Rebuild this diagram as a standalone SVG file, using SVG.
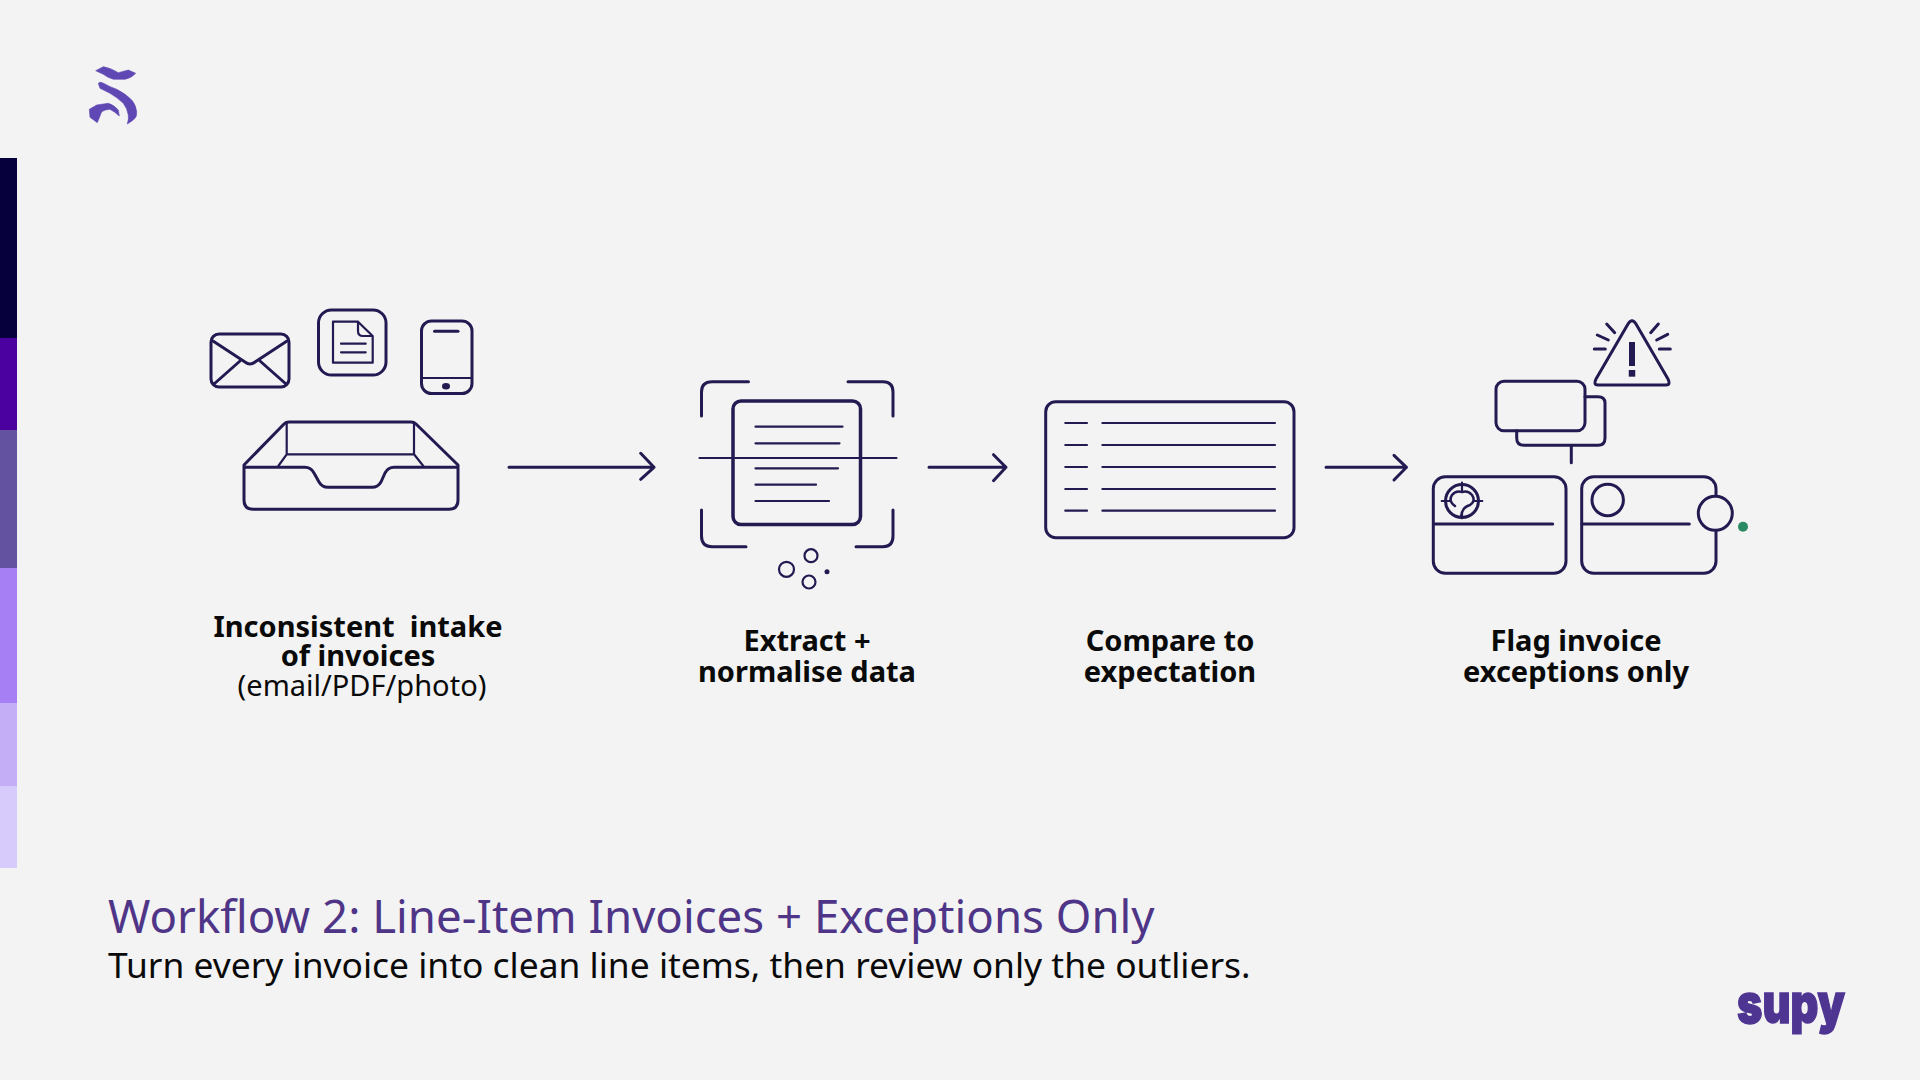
<svg xmlns="http://www.w3.org/2000/svg" width="1920" height="1080" viewBox="0 0 1920 1080">
<style>
.l{fill:none;stroke:#241a52;stroke-width:3;stroke-linecap:round;stroke-linejoin:round}
.t{stroke-width:2.2}
.n{font-family:"Noto Sans",sans-serif;font-size:29px;fill:#0a0a0a;text-anchor:middle;stroke:none;white-space:pre}
.b{font-weight:700}
</style>
<rect width="1920" height="1080" fill="#f3f3f3"/>
<g id="bar">
<rect x="0" y="158" width="17" height="180" fill="#06003d"/>
<rect x="0" y="338" width="17" height="92" fill="#4b00a0"/>
<rect x="0" y="430" width="17" height="138" fill="#62529f"/>
<rect x="0" y="568" width="17" height="135" fill="#a67ff5"/>
<rect x="0" y="703" width="17" height="83" fill="#c4aef5"/>
<rect x="0" y="786" width="17" height="82" fill="#d6cbfb"/>
</g>
<g id="logo" fill="#5f48b4" stroke="#5f48b4" stroke-width="0.6" stroke-linejoin="round">
<path d="M95.700 70.700L103.300 66.700Q110 67.500 118.300 72.700L128.300 70L135.700 73.300Q131 78.500 125 79.300H113.300Q108 78 103.300 74.300Z"/>
<path d="M98.300 83.300Q100 81.500 103 83Q110 87 116.700 89.300Q126 94 131.700 100Q136 105 136.700 111.700Q137 116 135 118.300Q132 121.500 127.300 124Q129 119 128.300 115Q127 108 123.300 103.300Q118 98 110 93.300L100 88.300Z"/>
<path d="M89.300 109.300L96.700 105L108.300 103.300Q114 105 118.300 110L119.300 116Q115 112 110 109.300Q105 109.500 101.700 111.700L97.300 122.700L90 117.300Z"/>
</g>
<g id="connectors" class="l">
<path d="M509 467.300H654M640.700 453.300L654 467.300L640.700 479.300"/>
<path d="M929 467.300H1006M993.500 454.700L1006 467.300L993.500 480.700"/>
<path d="M1326 467.300H1406.500M1394 455.300L1406.500 467.300L1394 480"/>
</g>
<g id="node-intake" class="l">
<rect x="211" y="334" width="78" height="53" rx="8"/>
<path d="M213 341L245 362Q250 366 255 362L287 341M214 384L240 361M286 384L260 361"/>
<rect x="318.500" y="310" width="67.500" height="65" rx="13"/>
<path class="t" d="M333 321.700H358L372.700 336V362.700H333ZM358 321.700V331Q358 336 363 336H372.700M341 343.700H365.700M341 352.300H365.700"/>
<rect x="421.500" y="321" width="50.500" height="72.500" rx="10"/>
<path d="M434.500 331.300H458"/>
<path class="t" d="M421.500 378H472"/>
<ellipse cx="446" cy="386.300" rx="2.500" ry="1.800" fill="#241a52"/>
<path d="M244 465L284 424Q286 422 289 422H411Q414 422 416 424L458 465V500Q458 509.300 449 509.300H253Q244 509.300 244 500ZM244 467.300H305Q311 467.300 314 473L319 482Q322 487.300 328 487.300H372Q378 487.300 381 482L385 473Q388 467.300 394 467.300H458"/>
<path class="t" d="M286.700 423V454.300H414V423M286.700 454.300L278.300 466M414 454.300L423.300 466"/>
<text class="n b" x="358" y="637">Inconsistent  intake</text>
<text class="n b" x="358" y="666">of invoices</text>
<text class="n" x="362" y="696">(email/PDF/photo)</text>
</g>
<g id="node-extract" class="l">
<path d="M701.500 416V392Q701.500 381.700 712 381.700H748.500M848 381.700H883Q893 381.700 893 392V416M701.500 510V536Q701.500 546.700 712 546.700H746M856 546.700H883Q893 546.700 893 536V510"/>
<rect x="733" y="401" width="127.500" height="123.500" rx="8" stroke-width="3.500"/>
<path class="t" d="M755.500 426.700H842.500M755.500 443.300H839.500M699.500 458H896.500M755.500 468.300H838M755.500 484.700H816M755.500 501H829"/>
<g class="t"><circle cx="786.500" cy="569.300" r="7.500"/><circle cx="811" cy="555.700" r="6.500"/><circle cx="809" cy="582" r="6.500"/></g>
<circle cx="827" cy="571.700" r="2.500" fill="#241a52" stroke="none"/>
<text class="n b" x="807" y="651">Extract +</text>
<text class="n b" x="807" y="682">normalise data</text>
</g>
<g id="node-compare" class="l">
<rect x="1045.700" y="401.700" width="248.300" height="136" rx="10"/>
<path class="t" d="M1065.300 423H1087M1102.400 423H1275M1065.300 445H1087M1102.400 445H1275M1065.300 467H1087M1102.400 467H1275M1065.300 489H1087M1102.400 489H1275M1065.300 510.700H1087M1102.400 510.700H1275"/>
<text class="n b" x="1170" y="651">Compare to</text>
<text class="n b" x="1170" y="682">expectation</text>
</g>
<g id="node-flag" class="l">
<path d="M1632 320.700Q1634 320.700 1636 324L1668 379Q1671 385 1666 385H1598Q1593 385 1596 379L1628 324Q1630 320.700 1632 320.700Z"/>
<path d="M1606.700 324L1614.700 332.700M1597.300 335L1608.300 340M1594.300 349H1605.300M1658.300 324L1650.700 332.700M1667.700 334.300L1656.700 340M1659.300 349H1670.300"/>
<path d="M1632 342V366" stroke-width="6" stroke-linecap="butt"/>
<path d="M1632 370V376.700" stroke-width="6.500" stroke-linecap="butt"/>
<rect x="1496" y="381.300" width="89" height="49.500" rx="8"/>
<path d="M1585 396.700H1598Q1605 396.700 1605 403V438Q1605 445.300 1598 445.300H1524Q1516.700 445.300 1516.700 438V430.700M1571.300 445.300V462.700"/>
<rect x="1433.300" y="476.700" width="132.700" height="96.600" rx="12"/>
<path d="M1434 524H1552.700"/>
<circle cx="1462" cy="501" r="16.500"/>
<path class="t" d="M1441.700 501H1482.300M1462 482.700V518.300"/>
<path d="M1455 506Q1448 501 1452 495Q1456 490 1462 492Q1468 490 1472 495Q1476 501 1470 505Q1462 507 1461 517" stroke-width="2.500" fill="#f3f3f3"/>
<rect x="1581.700" y="476.700" width="134.300" height="96.600" rx="12"/>
<path d="M1582 524H1689.300"/>
<circle cx="1607.700" cy="500" r="15.700"/>
<circle cx="1715.300" cy="513.300" r="17" fill="#f3f3f3"/>
<circle cx="1743" cy="526.700" r="5" fill="#2a8a63" stroke="none"/>
<text class="n b" x="1576" y="651">Flag invoice</text>
<text class="n b" x="1576" y="682">exceptions only</text>
</g>
<text x="108" y="933" font-family="'Noto Sans',sans-serif" font-size="45.6px" fill="#4f3587">Workflow 2: Line-Item Invoices + Exceptions Only</text>
<text x="108" y="977.500" font-family="'Noto Sans',sans-serif" font-size="35.4px" fill="#0a0a0a">Turn every invoice into clean line items, then review only the outliers.</text>
<text id="supy" x="1737" y="1023" font-family="Inter,sans-serif" font-weight="900" font-size="55px" fill="#4f3592" stroke="#4f3592" stroke-width="1.5" textLength="108" lengthAdjust="spacingAndGlyphs">supy</text>
</svg>
